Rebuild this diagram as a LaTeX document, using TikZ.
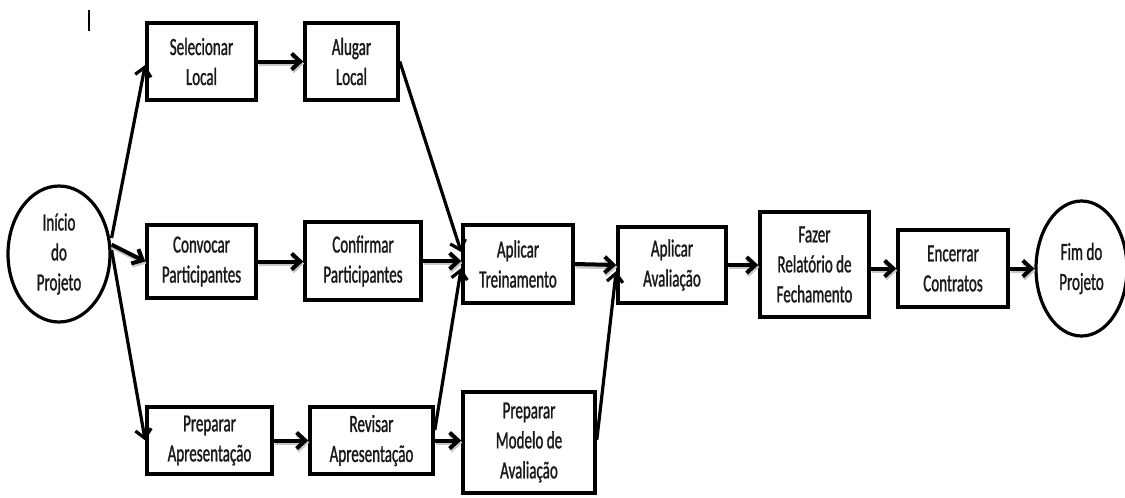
\documentclass[tikz,border=0pt]{standalone}
\usepackage{fontspec}
\setmainfont{Carlito}[FakeStretch=0.61,FakeBold=1.1]
\usetikzlibrary{arrows.meta,shapes.geometric}
\begin{document}
\begin{tikzpicture}[x=0.75pt,y=-0.75pt,
  label font/.style={font=\fontsize{18.5}{22.5}\selectfont, text=black!90},
  task/.style={draw, line width=2.7pt, rectangle, inner sep=0pt, align=center, label font},
  event/.style={draw, line width=2.4pt, ellipse, inner sep=0pt, align=center, label font},
  flow/.style={line width=3pt, -{Straight Barb[length=6.5pt,width=12pt]}},
  slanted/.style={flow, line width=2.4pt},
  shadowed/.style={preaction={draw=black!22, line width=3.4pt,
      transform canvas={shift={(0.8pt,-1.6pt)}}}}]
\useasboundingbox (0,0) rectangle (1125,497);

% cursor mark
\draw[line width=1.4pt] (89,10) -- (89,31);

% events
\node[event, minimum width=76.5pt, minimum height=102pt] (inicio) at (59,254) {Início\\do\\Projeto};
\node[event, minimum width=68.25pt, minimum height=101.25pt] (fim) at (1081.5,268.5) {Fim do\\Projeto};

% activities
\node[task, minimum width=81.75pt, minimum height=57.75pt] (sel)   at (201.5,61.5)  {Selecionar\\Local};
\node[task, minimum width=69.75pt, minimum height=57.75pt] (alu)   at (351.5,61.5)  {Alugar\\Local};
\node[task, minimum width=81.75pt, minimum height=54.75pt] (conv)  at (201.5,261.5) {Convocar\\Participantes};
\node[task, minimum width=87pt,    minimum height=58.5pt]  (conf)  at (363,261)     {Confirmar\\Participantes};
\node[task, minimum width=82.5pt,  minimum height=58.5pt]  (trein) at (518,264)     {Aplicar\\Treinamento};
\node[task, minimum width=81pt,    minimum height=57pt]    (aval)  at (672,265)     {Aplicar\\Avaliação};
\node[task, minimum width=81.75pt, minimum height=78.75pt] (fazer) at (814.5,264.5) {Fazer\\Relatório de\\Fechamento};
\node[task, minimum width=82.5pt,  minimum height=57.75pt] (enc)   at (953,268.5)   {Encerrar\\Contratos};
\node[task, minimum width=93.75pt, minimum height=50.25pt] (prepa) at (209.5,440.5) {Preparar\\Apresentação};
\node[task, minimum width=92.25pt, minimum height=50.25pt] (rev)   at (371.5,440.5) {Revisar\\Apresentação};
\node[task, minimum width=99pt,    minimum height=75.75pt] (mod)   at (529,442.5)   {Preparar\\Modelo de\\Avaliação};

% diagonal connectors
\draw[slanted] ([yshift=12pt]inicio.east) -- ([yshift=-2.6pt]sel.west);
\draw[slanted] ([yshift=3pt]inicio.east) -- (prepa.west);
\draw[slanted] (alu.east) -- ([yshift=9pt]trein.west);
\draw[slanted] ([yshift=7.8pt]rev.east) -- ([yshift=-3pt]trein.west);
\draw[slanted] ([yshift=2pt]mod.east) -- ([yshift=-4.5pt]aval.west);

% straight connectors
\draw[flow, shadowed] ([yshift=7pt]inicio.east) -- (conv.west);
\draw[flow, shadowed] (sel.east) -- (alu.west);
\draw[flow, shadowed] (conv.east) -- (conv.east -| conf.west);
\draw[flow, shadowed] (conf.east) -- (conf.east -| trein.west);
\draw[flow, shadowed] (trein.east) -- (aval.west);
\draw[flow, shadowed] (aval.east) -- (aval.east -| fazer.west);
\draw[flow, shadowed] (enc.west -| fazer.east) -- (enc.west);
\draw[flow, shadowed] (enc.east) -- (fim.west);
\draw[flow, shadowed] (prepa.east) -- (rev.west);
\draw[flow, shadowed] (rev.east) -- (rev.east -| mod.west);
\end{tikzpicture}
\end{document}
